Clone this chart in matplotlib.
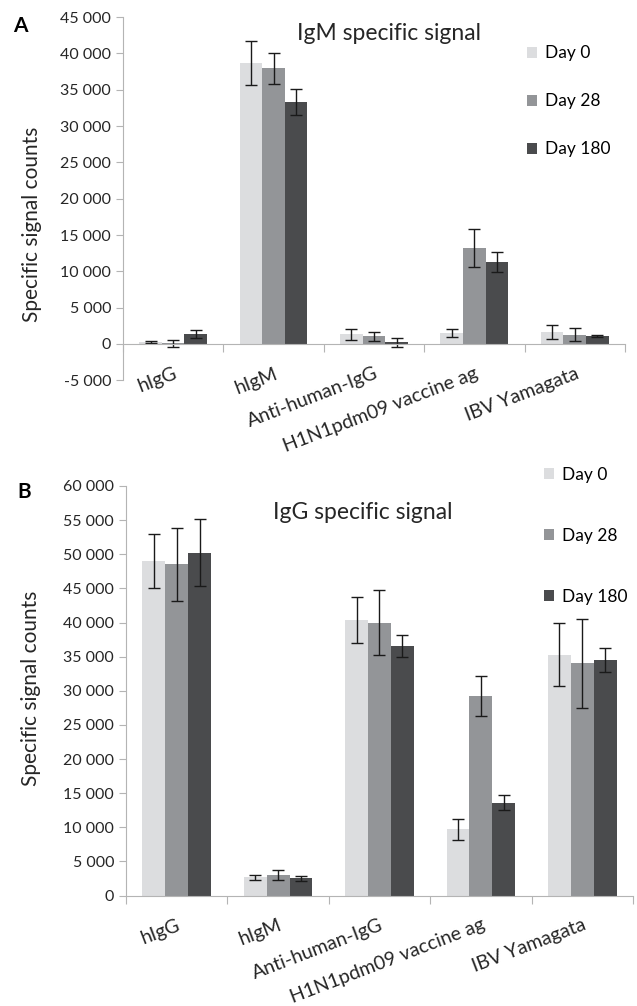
import numpy as np
import matplotlib.pyplot as plt
from matplotlib.ticker import FuncFormatter, FixedLocator

plt.rcParams['font.family'] = ['Lato', 'DejaVu Sans']

antigens = ['hIgG', 'hIgM', 'Anti-human-IgG', 'H1N1pdm09 vaccine ag', 'IBV Yamagata']
days = ['Day 0', 'Day 28', 'Day 180']
colors = ['#dcdddf', '#939598', '#4a4b4d']

# panel A - IgM
igm_mean = [
    [300, 38650, 1330, 1560, 1650],    # day 0
    [100, 37950, 1060, 13180, 1290],   # day 28
    [1380, 33320, 230, 11250, 1100],   # day 180
]
igm_err = [
    [150, 3000, 750, 550, 900],
    [500, 2150, 650, 2600, 880],
    [550, 1850, 600, 1350, 200],
]

# panel B - IgG
igg_mean = [
    [49000, 2660, 40350, 9700, 35300],
    [48500, 3000, 40000, 29200, 34000],
    [50200, 2550, 36500, 13600, 34500],
]
igg_err = [
    [3900, 400, 3400, 1500, 4650],
    [5350, 750, 4700, 2900, 6500],
    [4900, 350, 1600, 1100, 1750],
]

axis_grey = '#b4b4b4'
txt = '#262626'


def fmt(v, pos):
    return '{:,}'.format(int(v)).replace(',', ' ')


def panel(ax, mean, err, ylim, step):
    x = np.arange(len(antigens))
    w = 0.225
    for i in range(3):
        ax.bar(x + (i - 1) * w, mean[i], w, color=colors[i], label=days[i],
               yerr=err[i], capsize=4.5, error_kw=dict(elinewidth=1, capthick=1, ecolor='#1a1a1a'))
    ax.set_xlim(-0.5, len(antigens) - 0.5)
    ax.set_ylim(*ylim)
    ax.set_yticks(np.arange(ylim[0], ylim[1] + 1, step))
    ax.yaxis.set_major_formatter(FuncFormatter(fmt))
    ax.xaxis.set_major_locator(FixedLocator(np.arange(-0.5, len(antigens), 1)))
    ax.set_xticklabels([])
    ax.tick_params(axis='x', which='major', length=6, color=axis_grey)
    ax.tick_params(axis='y', length=5, color=axis_grey, labelsize=11.5, labelcolor=txt)
    for i, name in enumerate(antigens):
        ax.annotate(name, xy=(i, 0), xycoords='data', xytext=(0, -15),
                    textcoords='offset points', rotation=21, ha='right', va='top',
                    rotation_mode='anchor', fontsize=14, color=txt)
    for s in ['top', 'right']:
        ax.spines[s].set_visible(False)
    for s in ['left', 'bottom']:
        ax.spines[s].set_color(axis_grey)
    ax.spines['bottom'].set_position(('data', 0))
    ax.set_ylabel('Specific signal counts', fontsize=15, color=txt)


fig = plt.figure(figsize=(6.37, 10.06), dpi=100)

axA = fig.add_axes([0.193, 0.622, 0.788, 0.361])
panel(axA, igm_mean, igm_err, (-5000, 45000), 5000)
axA.yaxis.set_label_coords(-0.161, 0.43)
fig.text(0.611, 0.967, 'IgM specific signal', fontsize=16.5, ha='center', va='center', color=txt)
axA.legend(loc='upper left', bbox_to_anchor=(0.816, 0.962), bbox_transform=fig.transFigure,
           frameon=False, handlelength=0.6, handleheight=0.6, handletextpad=0.45,
           labelspacing=1.85, fontsize=12.5, borderaxespad=0)
fig.text(0.02, 0.974, 'A', fontsize=15, fontweight='bold', ha='left', va='center')

axB = fig.add_axes([0.1978, 0.1098, 0.7959, 0.4071])
panel(axB, igg_mean, igg_err, (0, 60000), 5000)
axB.yaxis.set_label_coords(-0.168, 0.507)
fig.text(0.570, 0.491, 'IgG specific signal', fontsize=16.5, ha='center', va='center', color=txt)
axB.legend(loc='upper left', bbox_to_anchor=(0.8426, 0.543), bbox_transform=fig.transFigure,
           frameon=False, handlelength=0.6, handleheight=0.6, handletextpad=0.45,
           labelspacing=2.6, fontsize=12.5, borderaxespad=0)
fig.text(0.027, 0.511, 'B', fontsize=15, fontweight='bold', ha='left', va='center')

fig.savefig('out.png', dpi=100, facecolor='white')
